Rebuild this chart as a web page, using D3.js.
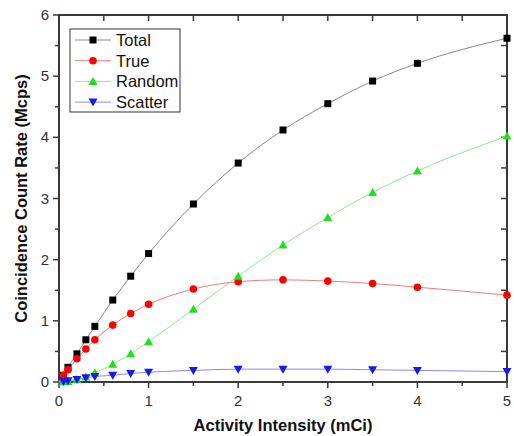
<!DOCTYPE html>
<html lang="en">
<head>
<meta charset="utf-8">
<title>Coincidence Count Rate</title>
<script src="https://cdn.jsdelivr.net/npm/d3@7"></script>
<style>
  body { margin: 0; background: #fff; }
  svg text { font-family: "Liberation Sans", Arial, sans-serif; }
</style>
</head>
<body>
<div id="chart"></div>
<script>
// activity (mCi)
var activity = [0.05, 0.1, 0.2, 0.3, 0.4, 0.6, 0.8, 1.0, 1.5, 2, 2.5, 3, 3.5, 4, 5];
var total   = [0.11, 0.24, 0.46, 0.69, 0.91, 1.34, 1.73, 2.10, 2.91, 3.58, 4.12, 4.55, 4.92, 5.21, 5.62];
var trueR   = [0.11, 0.20, 0.38, 0.54, 0.69, 0.93, 1.12, 1.27, 1.52, 1.64, 1.67, 1.65, 1.61, 1.55, 1.42];
var random  = [0.005, 0.01, 0.04, 0.08, 0.15, 0.29, 0.46, 0.66, 1.19, 1.73, 2.24, 2.69, 3.10, 3.45, 4.02];
var scatter = [0.01, 0.02, 0.04, 0.07, 0.09, 0.11, 0.14, 0.16, 0.19, 0.21, 0.21, 0.21, 0.20, 0.19, 0.17];

var seriesNames = ["Total", "True", "Random", "Scatter"];
var xTicks = [0, 1, 2, 3, 4, 5];
var yTicks = [0, 1, 2, 3, 4, 5, 6];

var styles = [
  {marker: "square", fill: "#000", line: "#8a8a8a"},
  {marker: "circle", fill: "#f00", line: "#f07a7a"},
  {marker: "triangle", fill: "#1ee01e", line: "#8fe88f"},
  {marker: "down", fill: "#1a1ae6", line: "#8a8af0"}
];
var values = [total, trueR, random, scatter];

var W = 514, H = 436;
var margin = {top: 15, right: 7, bottom: 54, left: 59};
var width = W - margin.left - margin.right;
var height = H - margin.top - margin.bottom;

var svg = d3.select("#chart").append("svg")
  .attr("width", W).attr("height", H);
var g = svg.append("g")
  .attr("transform", "translate(" + margin.left + "," + margin.top + ")");

var x = d3.scaleLinear().domain([0, 5]).range([0, width]);
var y = d3.scaleLinear().domain([0, 6]).range([height, 0]);

var axisColor = "#3a3a3a";
var minorX = d3.range(0.5, 5, 1);
var minorY = d3.range(0.5, 6, 1);

// ticks: left/bottom outward, top/right inward
function tickLines(sel, vals, horiz, pos, len) {
  sel.selectAll(null).data(vals).enter().append("line")
    .attr("x1", function(d) { return horiz ? x(d) : pos; })
    .attr("x2", function(d) { return horiz ? x(d) : pos + len; })
    .attr("y1", function(d) { return horiz ? pos : y(d); })
    .attr("y2", function(d) { return horiz ? pos + len : y(d); })
    .attr("stroke", axisColor).attr("stroke-width", 1.5);
}
var ticks = g.append("g");
tickLines(ticks, xTicks, true, height, 6);
tickLines(ticks, minorX, true, height, 4);
tickLines(ticks, yTicks, false, 0, -6);
tickLines(ticks, minorY, false, 0, -4);
tickLines(ticks, xTicks, true, 0, 6);
tickLines(ticks, minorX, true, 0, 6);
tickLines(ticks, yTicks, false, width, -6);
tickLines(ticks, minorY, false, width, -6);

g.append("rect")
  .attr("width", width).attr("height", height)
  .attr("fill", "none").attr("stroke", axisColor).attr("stroke-width", 2);

g.selectAll(".xl").data(xTicks).enter().append("text")
  .attr("x", function(d) { return x(d); })
  .attr("y", height + 24)
  .attr("text-anchor", "middle")
  .attr("font-size", 15).attr("fill", "#333")
  .text(function(d) { return d; });

g.selectAll(".yl").data(yTicks).enter().append("text")
  .attr("x", -10)
  .attr("y", function(d) { return y(d) + 5; })
  .attr("text-anchor", "end")
  .attr("font-size", 15).attr("fill", "#333")
  .text(function(d) { return d; });

svg.append("text")
  .attr("x", margin.left + width / 2).attr("y", 431)
  .attr("text-anchor", "middle")
  .attr("font-size", 16.5).attr("font-weight", "bold").attr("fill", "#111")
  .text("Activity Intensity (mCi)");

svg.append("text")
  .attr("transform", "translate(27," + (margin.top + height / 2) + ") rotate(-90)")
  .attr("text-anchor", "middle")
  .attr("font-size", 16.5).attr("font-weight", "bold").attr("fill", "#111")
  .text("Coincidence Count Rate (Mcps)");

function drawMarker(sel, type, color) {
  if (type === "square") {
    sel.append("rect").attr("x", -3.5).attr("y", -3.5).attr("width", 7).attr("height", 7).attr("fill", color);
  } else if (type === "circle") {
    sel.append("circle").attr("r", 3.8).attr("fill", color);
  } else if (type === "triangle") {
    sel.append("path").attr("d", "M0,-4.5L4.5,3.5L-4.5,3.5Z").attr("fill", color);
  } else {
    sel.append("path").attr("d", "M0,4.5L4.5,-3.5L-4.5,-3.5Z").attr("fill", color);
  }
}

var line = d3.line()
  .x(function(d) { return x(d[0]); })
  .y(function(d) { return y(d[1]); })
  .curve(d3.curveMonotoneX);

values.forEach(function(vals, i) {
  var pts = [[0, 0]].concat(activity.map(function(a, j) { return [a, vals[j]]; }));
  g.append("path").datum(pts)
    .attr("d", line)
    .attr("fill", "none")
    .attr("stroke", styles[i].line)
    .attr("stroke-width", 1);
});
values.forEach(function(vals, i) {
  g.selectAll(null).data(activity).enter().append("g")
    .attr("transform", function(a, j) { return "translate(" + x(a) + "," + y(vals[j]) + ")"; })
    .each(function() { drawMarker(d3.select(this), styles[i].marker, styles[i].fill); });
});

// legend
var lg = svg.append("g").attr("transform", "translate(70,29)");
lg.append("rect").attr("width", 110).attr("height", 83)
  .attr("fill", "#fff").attr("stroke", "#333").attr("stroke-width", 1);
seriesNames.forEach(function(name, i) {
  var row = lg.append("g").attr("transform", "translate(0," + (11 + i * 20.7) + ")");
  row.append("line").attr("x1", 5).attr("x2", 41).attr("stroke", styles[i].line).attr("stroke-width", 1);
  drawMarker(row.append("g").attr("transform", "translate(23,0)"), styles[i].marker, styles[i].fill);
  row.append("text").attr("x", 46).attr("y", 6)
    .attr("font-size", 16.5).attr("fill", "#111").text(name);
});
</script>
</body>
</html>
